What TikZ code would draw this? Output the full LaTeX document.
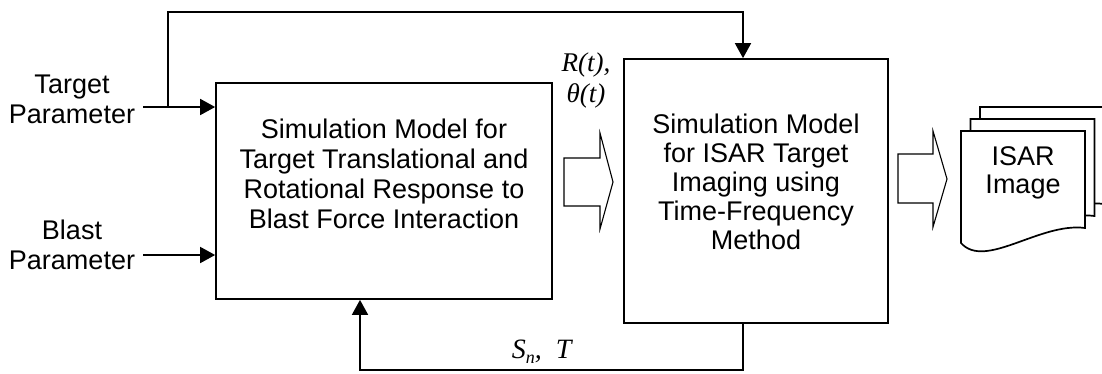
\documentclass[tikz,border=0pt]{standalone}
\usepackage{fontspec}
\setmainfont{Liberation Sans}
\newfontfamily\tnrfont{Liberation Serif}
\usetikzlibrary{arrows.meta}
\begin{document}
\begin{tikzpicture}[x=1pt,y=-1pt,
  line width=1.7pt,
  block/.style={draw, rectangle, inner sep=0pt},
  lbl/.style={inner sep=0pt, align=center, font=\fontsize{27}{30}\selectfont},
  sym/.style={inner sep=0pt, align=center, font=\tnrfont\itshape\fontsize{27}{31}\selectfont},
  arr/.style={-{Triangle[length=15pt,width=16pt]}},
  fat/.style={draw, line width=1.1pt, line join=miter, fill=white},
  page/.style={draw, line width=1.7pt, fill=white}]
\useasboundingbox (0,0) rectangle (1102,373);

% the two simulation blocks
\node[block, minimum width=336pt, minimum height=216pt] (sim) at (384,191) {};
\node[block, minimum width=264pt, minimum height=264pt] (isar) at (756,191) {};

\node[lbl, anchor=north] (simtxt) at (384,118)
  {Simulation Model for\\Target Translational and\\Rotational Response to\\Blast Force Interaction};
\node[lbl, anchor=north, font=\fontsize{27}{29}\selectfont] (isartxt) at (756,113)
  {Simulation Model\\for ISAR Target\\Imaging using\\Time-Frequency\\Method};

% inputs
\node[lbl, anchor=north] (tgt) at (72,74) {Target\\Parameter};
\node[lbl, anchor=north] (bls) at (72,219) {Blast\\Parameter};
\coordinate (tp) at (143,107);
\coordinate (tj) at (168,107);
\coordinate (bp) at (143,255);
\draw[arr] (tp) -- (sim.west |- tp);
\draw[arr] (bp) -- (sim.west |- bp);
\draw[arr] (tj) -- (168,12) -| ([xshift=-13pt]isar.north);

% feedback loop
\draw[arr] ([xshift=-13pt]isar.south) -- ++(0,46) -| ([xshift=-24pt]sim.south);
\node[inner sep=0pt, anchor=base west, font=\tnrfont\itshape\fontsize{28}{30}\selectfont] (snt) at (511,358)
  {S\raisebox{-5pt}{\fontsize{18}{18}\selectfont n},\ \ T};

% block arrows
\node[sym, anchor=north] (rt) at (586,52) {R(t),\\θ(t)};
\draw[fat] (564,158) -- (600,158) -- (600,133) -- (613,182) -- (600,229)
  -- (600,206) -- (564,206) -- cycle;
\draw[fat] (898,154) -- (933,154) -- (933,131) -- (947,179) -- (933,227)
  -- (933,203) -- (898,203) -- cycle;

% stack of output pages
\foreach \d in {2,1,0}{
  \begin{scope}[shift={(9.5*\d,-12*\d)}]
    \draw[page] (961,131) -- (1085,131) -- (1085,228)
      .. controls (1040,222) and (985,270) .. (961,243) -- cycle;
  \end{scope}
}
\node[lbl, anchor=north, font=\fontsize{27}{28}\selectfont] (img) at (1023,146) {ISAR\\Image};
\end{tikzpicture}
\end{document}
